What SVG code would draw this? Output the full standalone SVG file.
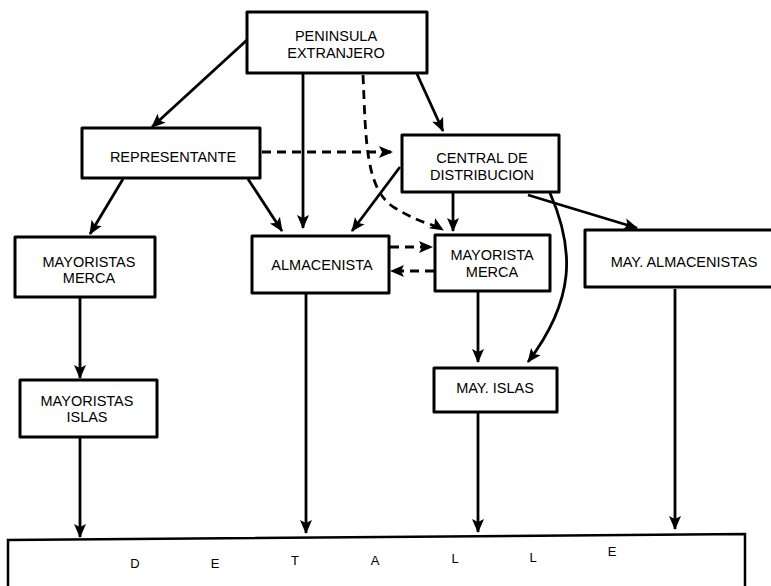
<svg xmlns="http://www.w3.org/2000/svg" width="771" height="586" viewBox="0 0 771 586">
<style>
.box{fill:#fff;stroke:#000;stroke-width:3;stroke-linejoin:round}
.t{font-family:"Liberation Sans",Arial,sans-serif;font-size:14.5px;fill:#000;text-anchor:middle}
.d{font-family:"Liberation Sans",Arial,sans-serif;font-size:13px;fill:#000;text-anchor:middle}
.c{fill:none;stroke:#000;stroke-width:2.8}
.dash{stroke-dasharray:9,6}
</style>
<defs>
<marker id="ah" viewBox="0 0 14 14" refX="13" refY="7" markerWidth="14" markerHeight="14" markerUnits="userSpaceOnUse" orient="auto">
<path d="M0,1 L14,7 L0,13 L3,7 z" fill="#000"/>
</marker>
</defs>
<rect width="771" height="586" fill="#fff"/>
<g id="connectors">
<path class="c" d="M247,40 L152,127" marker-end="url(#ah)"/>
<path class="c" d="M303,73 L303,228" marker-end="url(#ah)"/>
<path class="c" d="M417,74 L443,131" marker-end="url(#ah)"/>
<path class="c dash" d="M363,75 C366,140 365,190 395,208 S430,222 443,230" marker-end="url(#ah)"/>
<path class="c dash" d="M262,152 L392,152" marker-end="url(#ah)"/>
<path class="c" d="M123,179 L90,234" marker-end="url(#ah)"/>
<path class="c" d="M248,179 L282,231" marker-end="url(#ah)"/>
<path class="c" d="M400,167 L352,231" marker-end="url(#ah)"/>
<path class="c" d="M453,193 L453,231" marker-end="url(#ah)"/>
<path class="c" d="M528,195 L637,228" marker-end="url(#ah)"/>
<path class="c" d="M550,193 C575,250 575,300 528,362" marker-end="url(#ah)"/>
<path class="c dash" d="M390,247 L432,247" marker-end="url(#ah)"/>
<path class="c dash" d="M434,271 L391,271" marker-end="url(#ah)"/>
<path class="c" d="M80,297 L80,378" marker-end="url(#ah)"/>
<path class="c" d="M80,437 L80,537" marker-end="url(#ah)"/>
<path class="c" d="M306,293 L306,533" marker-end="url(#ah)"/>
<path class="c" d="M478,291 L478,362" marker-end="url(#ah)"/>
<path class="c" d="M478,412 L478,532" marker-end="url(#ah)"/>
<path class="c" d="M675,289 L675,529" marker-end="url(#ah)"/>
</g>
<g id="peninsula">
<rect class="box" x="247" y="12" width="180" height="61"/>
<text class="t" x="336" y="41">PENINSULA</text>
<text class="t" x="336" y="58">EXTRANJERO</text>
</g>
<g id="representante">
<rect class="box" x="82" y="128" width="178" height="50"/>
<text class="t" x="173" y="162">REPRESENTANTE</text>
</g>
<g id="central">
<rect class="box" x="402" y="135" width="157" height="57"/>
<text class="t" x="482" y="163">CENTRAL DE</text>
<text class="t" x="482" y="180">DISTRIBUCION</text>
</g>
<g id="mayoristas-merca">
<rect class="box" x="15" y="237" width="140" height="60"/>
<text class="t" x="89" y="267">MAYORISTAS</text>
<text class="t" x="89" y="283">MERCA</text>
</g>
<g id="almacenista">
<rect class="box" x="252" y="236" width="137" height="57"/>
<text class="t" x="322" y="270">ALMACENISTA</text>
</g>
<g id="mayorista-merca">
<rect class="box" x="435" y="235" width="115" height="56"/>
<text class="t" x="492" y="260">MAYORISTA</text>
<text class="t" x="492" y="277">MERCA</text>
</g>
<g id="may-almacenistas">
<rect class="box" x="585" y="230" width="192" height="57"/>
<text class="t" x="684" y="267">MAY. ALMACENISTAS</text>
</g>
<g id="mayoristas-islas">
<rect class="box" x="20" y="380" width="137" height="57"/>
<text class="t" x="87" y="406">MAYORISTAS</text>
<text class="t" x="87" y="422">ISLAS</text>
</g>
<g id="may-islas">
<rect class="box" x="434" y="368" width="123" height="44"/>
<text class="t" x="495" y="393">MAY. ISLAS</text>
</g>
<g id="detalle">
<path d="M8,590 L8,540 L745,534 L745,590" fill="#fff" stroke="#000" stroke-width="2.5"/>
<text class="d" x="135" y="568">D</text>
<text class="d" x="215" y="568">E</text>
<text class="d" x="295" y="565">T</text>
<text class="d" x="375" y="565">A</text>
<text class="d" x="455" y="563">L</text>
<text class="d" x="533" y="562">L</text>
<text class="d" x="612" y="556">E</text>
</g>
</svg>
